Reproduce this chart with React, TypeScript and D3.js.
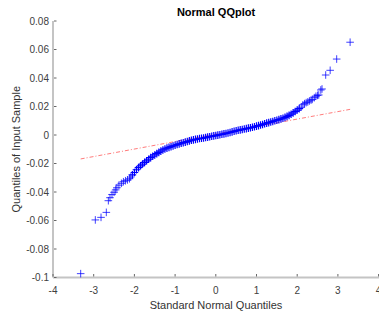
import { useEffect, useRef } from "react";
import * as d3 from "d3";

// [standard normal quantile, sample quantile]
const lowerTail: [number, number][] = [
  [-3.32, -0.0973], [-2.96, -0.0596], [-2.82, -0.0578], [-2.69, -0.0543],
  [-2.64, -0.0461], [-2.6, -0.044], [-2.55, -0.0418], [-2.5, -0.0402],
  [-2.46, -0.0385], [-2.43, -0.037], [-2.38, -0.0352], [-2.32, -0.0339],
  [-2.27, -0.0328], [-2.22, -0.0321], [-2.17, -0.0315], [-2.12, -0.0307],
  [-2.09, -0.0295],
];

const body: [number, number][] = [
  [-2.05, -0.028], [-2.0, -0.0263], [-1.95, -0.0244], [-1.9, -0.0229],
  [-1.85, -0.0216], [-1.8, -0.0204], [-1.75, -0.0192], [-1.7, -0.0181],
  [-1.65, -0.017], [-1.6, -0.0159], [-1.55, -0.0149], [-1.5, -0.014],
  [-1.45, -0.0131], [-1.4, -0.0122], [-1.35, -0.0113], [-1.3, -0.0105],
  [-1.25, -0.0098], [-1.2, -0.0092], [-1.15, -0.0087], [-1.1, -0.0082],
  [-1.05, -0.0077], [-1.0, -0.0072], [-0.95, -0.0067], [-0.9, -0.0062],
  [-0.85, -0.0058], [-0.8, -0.0054], [-0.75, -0.005], [-0.7, -0.0046],
  [-0.65, -0.0041], [-0.6, -0.0037], [-0.55, -0.0034], [-0.5, -0.0031],
  [-0.45, -0.0028], [-0.4, -0.0025], [-0.35, -0.0023], [-0.3, -0.0021],
  [-0.25, -0.0018], [-0.2, -0.0015], [-0.15, -0.0012], [-0.1, -0.0009],
  [-0.05, -0.0006], [0.0, -0.0004], [0.05, -0.0001], [0.1, 0.0002],
  [0.15, 0.0005], [0.2, 0.0008], [0.25, 0.0011], [0.3, 0.0014],
  [0.35, 0.0018], [0.4, 0.0022], [0.45, 0.0026], [0.5, 0.003],
  [0.55, 0.0033], [0.6, 0.0036], [0.65, 0.0039], [0.7, 0.0042],
  [0.75, 0.0045], [0.8, 0.0048], [0.85, 0.0051], [0.9, 0.0054],
  [0.95, 0.0058], [1.0, 0.0062], [1.05, 0.0066], [1.1, 0.007],
  [1.15, 0.0074], [1.2, 0.0079], [1.25, 0.0083], [1.3, 0.0087],
  [1.35, 0.0091], [1.4, 0.0095], [1.45, 0.01], [1.5, 0.0104],
  [1.55, 0.0108], [1.6, 0.0113], [1.65, 0.0118], [1.7, 0.0124],
  [1.75, 0.0131], [1.8, 0.0138], [1.85, 0.0146], [1.9, 0.0155],
  [1.95, 0.0165], [2.0, 0.0175], [2.05, 0.0185],
];

const upperTail: [number, number][] = [
  [2.1, 0.0195], [2.14, 0.0212], [2.18, 0.022], [2.22, 0.0227],
  [2.26, 0.0232], [2.3, 0.0239], [2.34, 0.0245], [2.37, 0.025],
  [2.42, 0.0262], [2.46, 0.0272], [2.5, 0.0278], [2.53, 0.0281],
  [2.58, 0.0316], [2.61, 0.0323], [2.7, 0.0421], [2.81, 0.0454],
  [2.97, 0.0533], [3.3, 0.0651],
];

// reference line end points
const refLine: [number, number][] = [
  [-3.32, -0.0168],
  [3.3, 0.018],
];

const xTicks = [-4, -3, -2, -1, 0, 1, 2, 3, 4];
const yTicks = [-0.1, -0.08, -0.06, -0.04, -0.02, 0, 0.02, 0.04, 0.06, 0.08];

export default function App() {
  const svgRef = useRef<SVGSVGElement>(null);

  useEffect(() => {
    const width = 379;
    const height = 318;
    const svg = d3.select(svgRef.current);
    svg.selectAll("*").remove();

    const x = d3.scaleLinear().domain([-4, 4]).range([53, 378.6]);
    const y = d3.scaleLinear().domain([-0.1, 0.08]).range([277.5, 21]);

    svg.attr("width", width).attr("height", height).style("font-family", "'Liberation Sans', Arial, sans-serif");

    // axes lines
    svg.append("line")
      .attr("x1", x(-4)).attr("x2", x(-4))
      .attr("y1", y(0.08)).attr("y2", y(-0.1))
      .attr("stroke", "#c4c4c4").attr("stroke-width", 2);
    svg.append("line")
      .attr("x1", x(-4)).attr("x2", x(4) + 2)
      .attr("y1", y(-0.1)).attr("y2", y(-0.1))
      .attr("stroke", "#c4c4c4").attr("stroke-width", 2);

    // ticks (inward)
    svg.append("g").selectAll("line").data(yTicks).join("line")
      .attr("x1", x(-4) + 1).attr("x2", x(-4) + 3.5)
      .attr("y1", (d) => y(d)).attr("y2", (d) => y(d))
      .attr("stroke", "#666").attr("stroke-width", 1);
    svg.append("g").selectAll("line").data(xTicks).join("line")
      .attr("x1", (d) => x(d)).attr("x2", (d) => x(d))
      .attr("y1", y(-0.1) - 1).attr("y2", y(-0.1) - 3.5)
      .attr("stroke", "#666").attr("stroke-width", 1);

    // tick labels
    svg.append("g").selectAll("text").data(yTicks).join("text")
      .attr("x", 49).attr("y", (d) => y(d)).attr("dy", "0.35em")
      .attr("text-anchor", "end").attr("font-size", 10).attr("fill", "#404040")
      .text((d) => String(+d.toFixed(2)));
    svg.append("g").selectAll("text").data(xTicks).join("text")
      .attr("x", (d) => x(d)).attr("y", 294)
      .attr("text-anchor", "middle").attr("font-size", 10).attr("fill", "#404040")
      .text((d) => String(d));

    // labels & title
    svg.append("text")
      .attr("x", 216).attr("y", 309).attr("text-anchor", "middle")
      .attr("font-size", 11).attr("fill", "#333")
      .text("Standard Normal Quantiles");
    svg.append("text")
      .attr("transform", `translate(20,${(y(0.08) + y(-0.1)) / 2}) rotate(-90)`)
      .attr("text-anchor", "middle").attr("font-size", 11).attr("fill", "#333")
      .text("Quantiles of Input Sample");
    svg.append("text")
      .attr("x", 216).attr("y", 16).attr("text-anchor", "middle")
      .attr("font-size", 11).attr("font-weight", "bold").attr("fill", "#000")
      .text("Normal QQplot");

    // reference line
    const line = d3.line<[number, number]>().x((d) => x(d[0])).y((d) => y(d[1]));
    svg.append("path")
      .attr("d", line(refLine))
      .attr("fill", "none").attr("stroke", "#ff3030").attr("stroke-opacity", 0.8)
      .attr("stroke-width", 0.8).attr("stroke-dasharray", "4,2,1,2");

    // crosses: tails drawn thinner, dense body thicker
    const s = 3.8;
    const cross = (d: [number, number]) => {
      const px = x(d[0]);
      const py = y(d[1]);
      return `M${px - s},${py}H${px + s}M${px},${py - s}V${py + s}`;
    };
    svg.append("g").selectAll("path").data([...lowerTail, ...upperTail]).join("path")
      .attr("d", cross)
      .attr("fill", "none").attr("stroke", "#0000ff").attr("stroke-opacity", 0.75).attr("stroke-width", 1);
    svg.append("g").selectAll("path").data(body).join("path")
      .attr("d", cross)
      .attr("fill", "none").attr("stroke", "#0000ff").attr("stroke-width", 1.2);
  }, []);

  return (
    <svg ref={svgRef} style={{ position: "absolute", left: 0, top: 0, background: "#fff" }} />
  );
}
